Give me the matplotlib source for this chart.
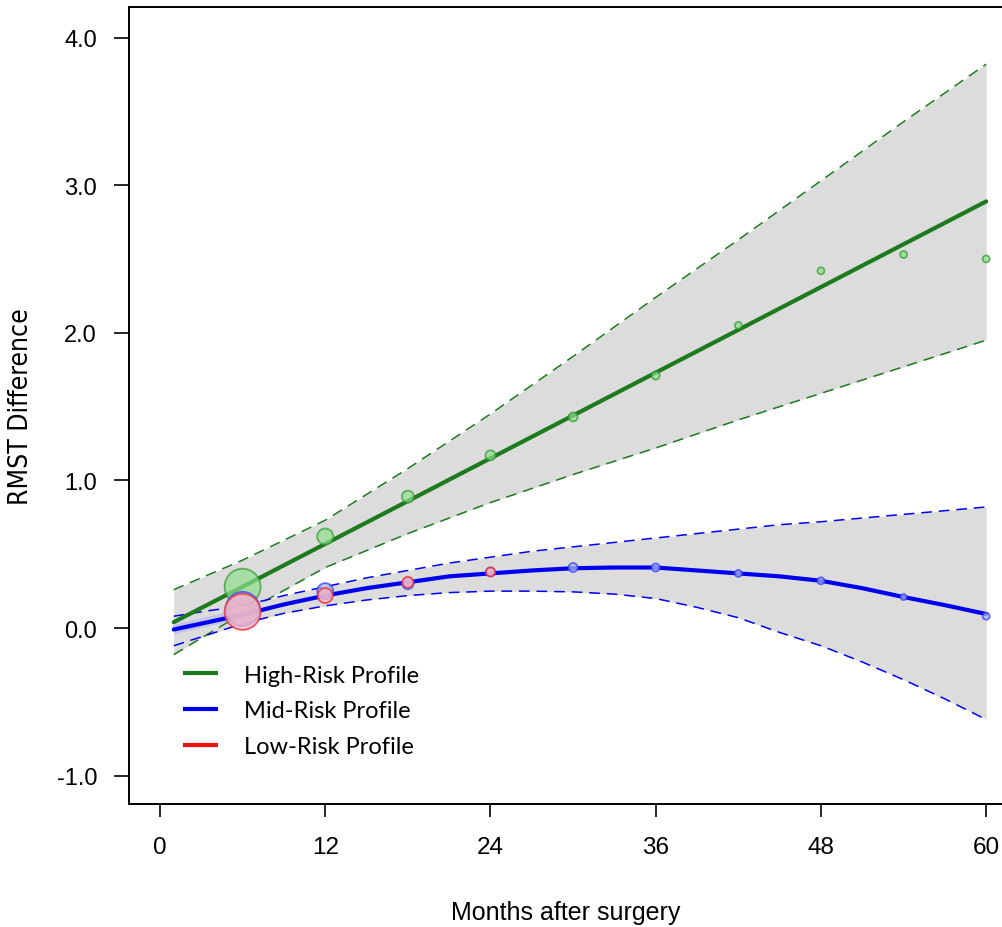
import matplotlib.pyplot as plt

# high-risk fitted line and band, read at these months
months = [1, 6, 12, 18, 24, 30, 36, 42, 48, 54, 60]
high_fit = [0.04, 0.28, 0.57, 0.86, 1.15, 1.44, 1.73, 2.02, 2.31, 2.60, 2.89]
high_up = [0.26, 0.46, 0.73, 1.08, 1.45, 1.84, 2.24, 2.63, 3.03, 3.43, 3.82]
high_lo = [-0.18, 0.10, 0.41, 0.64, 0.85, 1.04, 1.22, 1.41, 1.59, 1.77, 1.95]

# mid-risk curve bends more, so read it more often
mid_months = [1, 3, 6, 9, 12, 15, 18, 21, 24, 27, 30, 33, 36, 39, 42, 45, 48, 51, 54, 57, 60]
mid_fit = [-0.01, 0.03, 0.09, 0.16, 0.22, 0.27, 0.31, 0.35, 0.37, 0.39, 0.405,
           0.41, 0.41, 0.39, 0.37, 0.35, 0.32, 0.27, 0.21, 0.155, 0.095]
mid_up = [0.08, 0.11, 0.15, 0.22, 0.28, 0.34, 0.39, 0.44, 0.48, 0.52, 0.55,
          0.58, 0.61, 0.64, 0.67, 0.70, 0.72, 0.745, 0.77, 0.795, 0.82]
mid_lo = [-0.12, -0.06, 0.03, 0.10, 0.15, 0.19, 0.22, 0.24, 0.25, 0.25, 0.245,
          0.23, 0.20, 0.14, 0.07, -0.03, -0.12, -0.23, -0.35, -0.48, -0.62]

low_months = [1, 7]
low_fit = [-0.01, 0.12]

# observed points (bubble diameter in px ~ weight)
pt_months = [6, 12, 18, 24, 30, 36, 42, 48, 54, 60]
high_pts = [0.28, 0.62, 0.89, 1.17, 1.43, 1.71, 2.05, 2.42, 2.53, 2.50]
high_size = [36, 16, 12, 10, 9, 8, 7, 7, 7, 7]
mid_pts = [0.13, 0.25, 0.30, 0.38, 0.41, 0.41, 0.37, 0.32, 0.21, 0.08]
mid_size = [34, 16, 11, 9, 9, 8, 7, 7, 6, 7]
low_pt_months = [6, 12, 18, 24]
low_pts = [0.11, 0.22, 0.31, 0.38]
low_size = [36, 15, 11, 9]

x_ticks = [0, 12, 24, 36, 48, 60]
y_ticks = [-1, 0, 1, 2, 3, 4]
y_labels = ['-1.0', '0.0', '1.0', '2.0', '3.0', '4.0']

GREEN = '#1e7a1e'
BLUE = '#0000ee'
RED = '#ee1111'
FILL = '#dcdcdc'

plt.rcParams['font.family'] = ['Liberation Sans', 'DejaVu Sans']

fig = plt.figure(figsize=(10.03, 9.28), dpi=100)
ax = fig.add_axes([129/1003, 123/928, 874/1003, 797/928])

def sz(d):
    return [(v * 0.72) ** 2 for v in d]

ax.fill_between(months, high_lo, high_up, color=FILL, lw=0, zorder=1)
ax.fill_between(mid_months, mid_lo, mid_up, color=FILL, lw=0, zorder=1)

for arr in (high_up, high_lo):
    ax.plot(months, arr, color=GREEN, lw=1.1, ls=(0, (7, 4.5)), zorder=2)
for arr in (mid_up, mid_lo):
    ax.plot(mid_months, arr, color=BLUE, lw=1.1, ls=(0, (7, 4.5)), zorder=2)

ax.plot(low_months, low_fit, color='#c0c0ee', lw=7, alpha=0.8, solid_capstyle='butt', zorder=3)
ax.plot(months, high_fit, color=GREEN, lw=3.0, solid_capstyle='round', zorder=4)
ax.plot(mid_months, mid_fit, color=BLUE, lw=3.0, solid_capstyle='round', zorder=4)

ax.scatter(pt_months, high_pts, s=sz(high_size), facecolor='#90e090', edgecolor='#2e9a2e',
           alpha=0.7, lw=1.3, zorder=5)
ax.scatter(pt_months, mid_pts, s=sz(mid_size), facecolor='#a8b4f4', edgecolor='#3344ee',
           alpha=0.75, lw=1.3, zorder=6)
ax.scatter(low_pt_months, low_pts, s=sz(low_size), facecolor='#f4b4c4', edgecolor='#e83040',
           alpha=0.8, lw=1.3, zorder=7)

ax.plot([], [], color=GREEN, lw=3, label='High-Risk Profile')
ax.plot([], [], color=BLUE, lw=3, label='Mid-Risk Profile')
ax.plot([], [], color=RED, lw=3, label='Low-Risk Profile')
ax.legend(loc='upper left', bbox_to_anchor=(0.064, 0.175), frameon=False,
          prop={'family': 'Lato', 'size': 17}, handlelength=1.3,
          handletextpad=1.2, labelspacing=0.62, borderpad=0, borderaxespad=0)

ax.set_xlim(-2.25, 61.22)
ax.set_ylim(-1.192, 4.207)
ax.set_xticks(x_ticks)
ax.set_yticks(y_ticks)
ax.set_yticklabels(y_labels)
ax.tick_params(axis='y', length=11, width=1.2, pad=12, labelsize=17)
ax.tick_params(axis='x', length=9, width=1.2, pad=14, labelsize=17.5)
ax.spines['right'].set_visible(False)
for s in ('left', 'bottom', 'top'):
    ax.spines[s].set_linewidth(1.4)

ax.set_xlabel('Months after surgery', fontsize=18, labelpad=30)
ax.set_ylabel('RMST Difference', fontsize=19, labelpad=16, fontstretch='condensed',
              family='DejaVu Sans')

fig.savefig('out.png', dpi=100)
